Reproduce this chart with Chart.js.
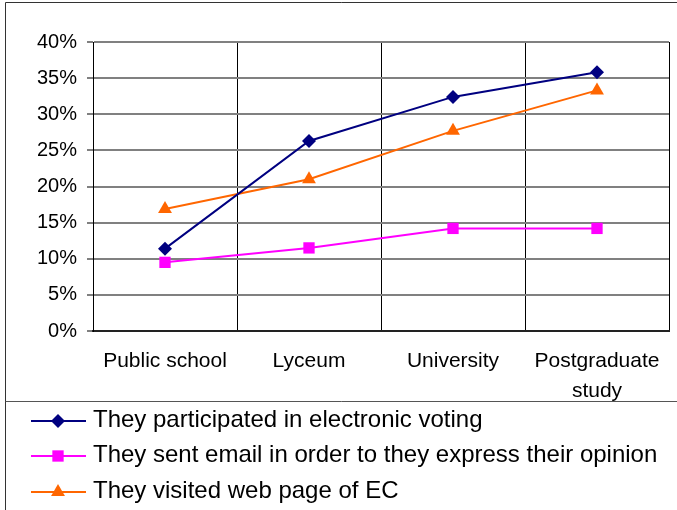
<!DOCTYPE html>
<html>
<head>
<meta charset="utf-8">
<script src="https://cdn.jsdelivr.net/npm/chart.js@4.4.1/dist/chart.umd.min.js"></script>
<style>
  html, body { margin: 0; padding: 0; background: #fff; }
  canvas { display: block; }
</style>
</head>
<body>
<canvas id="eduChart" width="677" height="510"></canvas>
<script>
const categories = ["Public school", "Lyceum", "University", ["Postgraduate", "study"]];
const seriesNames = [
  "They participated in electronic voting",
  "They sent email in order to they express their opinion",
  "They visited web page of EC"
];
const votingValues = [11.4, 26.3, 32.4, 35.8];
const emailValues = [9.5, 11.5, 14.2, 14.2];
const visitedValues = [16.9, 21.0, 27.7, 33.3];
const yTicks = [0, 5, 10, 15, 20, 25, 30, 35, 40];

const FONT = "'Liberation Sans', Arial, sans-serif";
const GRAY = "#808080";

const drawMarker = (ctx, style, x, y, r) => {
  ctx.beginPath();
  if (style === "rectRot") {
    ctx.moveTo(x, y - r);
    ctx.lineTo(x + r, y);
    ctx.lineTo(x, y + r);
    ctx.lineTo(x - r, y);
  } else if (style === "rect") {
    const s = r * Math.SQRT1_2;
    ctx.rect(x - s, y - s, 2 * s, 2 * s);
  } else {
    ctx.moveTo(x, y - r);
    ctx.lineTo(x + r * 0.866, y + r / 2);
    ctx.lineTo(x - r * 0.866, y + r / 2);
  }
  ctx.closePath();
  ctx.fill();
};

// border, separator and legend box drawn by hand (line + marker + text)
const legendBox = {
  id: "legendBox",
  afterDraw(chart) {
    const ctx = chart.ctx;
    ctx.save();
    ctx.fillStyle = "#fff";
    ctx.fillRect(6, 401, 671, 109);

    ctx.strokeStyle = "#333";
    ctx.lineWidth = 1;
    ctx.beginPath();
    ctx.moveTo(5.5, 510);
    ctx.lineTo(5.5, 2.5);
    ctx.lineTo(677, 2.5);
    ctx.stroke();

    ctx.strokeStyle = "#555";
    ctx.beginPath();
    ctx.moveTo(5.5, 401.5);
    ctx.lineTo(677, 401.5);
    ctx.stroke();

    const rows = [421, 456, 492];
    chart.data.datasets.forEach((ds, i) => {
      const y = rows[i];
      ctx.strokeStyle = ds.borderColor;
      ctx.lineWidth = 2;
      ctx.beginPath();
      ctx.moveTo(31, y);
      ctx.lineTo(86, y);
      ctx.stroke();
      ctx.fillStyle = ds.pointBackgroundColor;
      drawMarker(ctx, ds.pointStyle, 58, y, ds.pointRadius);

      ctx.fillStyle = "#000";
      ctx.font = "24px " + FONT;
      ctx.textAlign = "left";
      ctx.textBaseline = "middle";
      ctx.fillText(ds.label, 93, y - 1);
    });
    ctx.restore();
  }
};

const makeSet = (label, data, color, style, radius) => ({
  label: label,
  data: data,
  borderColor: color,
  backgroundColor: color,
  pointBackgroundColor: color,
  pointBorderColor: color,
  pointBorderWidth: 0,
  pointStyle: style,
  pointRadius: radius,
  pointHoverRadius: radius,
  borderWidth: 2,
  tension: 0
});

new Chart(document.getElementById("eduChart"), {
  type: "line",
  data: {
    labels: categories,
    datasets: [
      makeSet(seriesNames[0], votingValues, "#000080", "rectRot", 7),
      makeSet(seriesNames[1], emailValues, "#FF00FF", "rect", 8),
      makeSet(seriesNames[2], visitedValues, "#FF6600", "triangle", 8)
    ]
  },
  options: {
    responsive: false,
    animation: false,
    layout: { padding: { left: 0, right: 8, top: 42, bottom: 109 } },
    plugins: {
      legend: { display: false },
      tooltip: { enabled: false }
    },
    scales: {
      x: {
        offset: true,
        grid: {
          offset: true,
          drawTicks: false,
          color: (c) => (c.index === categories.length ? GRAY : "#000"),
          lineWidth: (c) => (c.index === categories.length ? 2 : 1)
        },
        border: { color: "#222", width: 2 },
        ticks: {
          color: "#000",
          padding: 16,
          maxRotation: 0,
          autoSkip: false,
          font: { family: FONT, size: 21, lineHeight: 1.4 }
        },
        afterFit: (scale) => { scale.height = 70; }
      },
      y: {
        min: 0,
        max: 40,
        afterBuildTicks: (scale) => { scale.ticks = yTicks.map((v) => ({ value: v })); },
        grid: { color: GRAY, lineWidth: 2, tickLength: 6, tickColor: GRAY },
        border: { color: "#000", width: 1 },
        ticks: {
          color: "#000",
          padding: 10,
          font: { family: FONT, size: 20 },
          callback: (v) => v + "%"
        },
        afterFit: (scale) => { scale.width = 93; }
      }
    }
  },
  plugins: [legendBox]
});
</script>
</body>
</html>
